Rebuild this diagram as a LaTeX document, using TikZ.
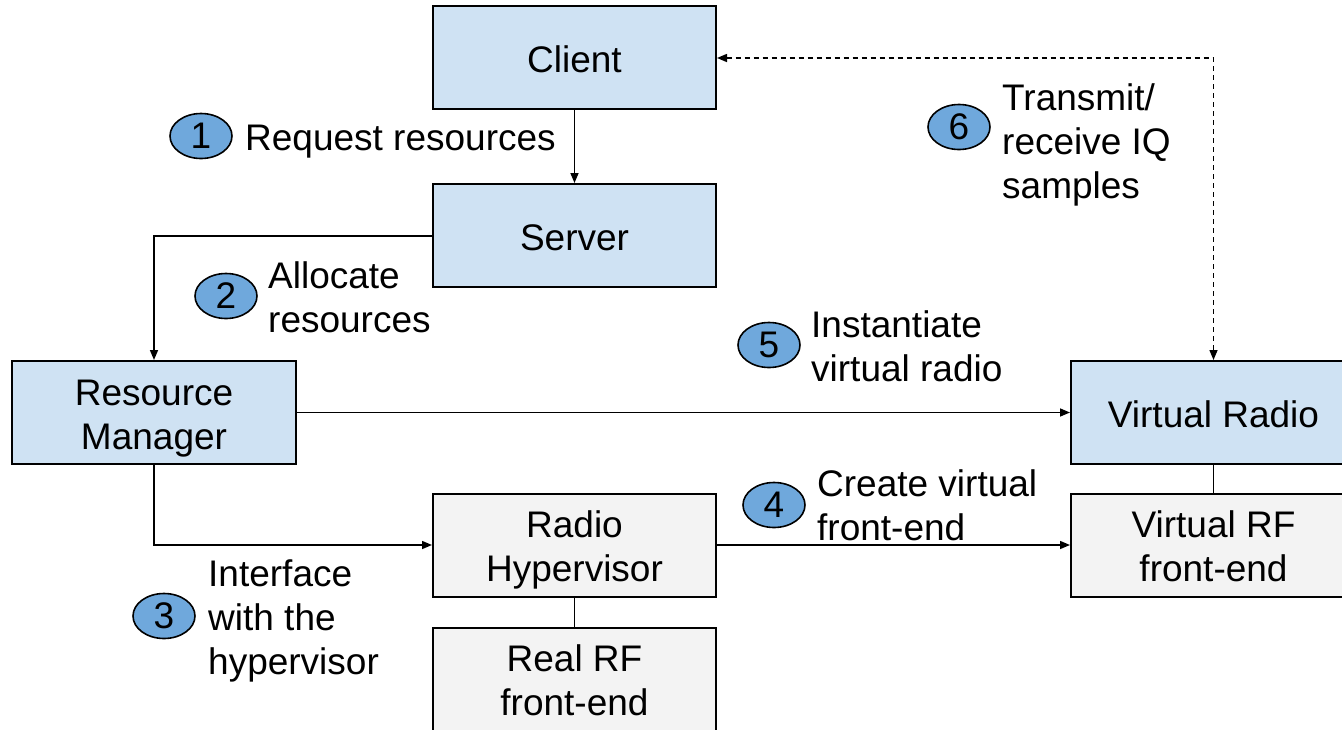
\documentclass[tikz,border=0pt]{standalone}
\usepackage{fontspec}
\setmainfont{Liberation Sans}
\usetikzlibrary{arrows.meta,shapes.geometric}
\definecolor{boxblue}{HTML}{CFE2F3}
\definecolor{boxgray}{HTML}{F3F3F3}
\definecolor{numblue}{HTML}{6FA8DC}
\newcommand\zup{\rule{0pt}{38.6pt}}
\newcommand\zdn{\rule[-9pt]{0pt}{9pt}}
\tikzset{
  box/.style={draw=black, line width=2pt, minimum height=103pt, inner sep=0pt, align=center,
     font=\fontsize{37}{44}\selectfont},
  bluebox/.style={box, fill=boxblue},
  graybox/.style={box, fill=boxgray},
  num/.style={ellipse, draw=black, line width=1.6pt, fill=numblue, minimum width=62pt, minimum height=45pt,
     inner sep=0pt, font=\fontsize{37}{44}\selectfont},
  lbl/.style={anchor=west, align=left, inner sep=0pt, font=\fontsize{37}{44}\selectfont},
  conn/.style={line width=1.5pt, -{Triangle[length=10pt,width=8pt]}},
  link/.style={line width=1.5pt},
  dconn/.style={line width=1.5pt, dash pattern=on 5pt off 4pt,
     {Triangle[length=10pt,width=8pt]}-{Triangle[length=10pt,width=8pt]}}
}
\begin{document}
\begin{tikzpicture}[x=1pt,y=-1pt]
\useasboundingbox (0,0) rectangle (1342,729);
\clip (0,0) rectangle (1342,729);
\fill[white] (0,0) rectangle (1342,729);

\node[bluebox, minimum width=283pt] (client) at (574.5,57.5) {\zup Client\zdn};
\node[bluebox, minimum width=283pt] (server) at (574.5,235.5) {\zup Server\zdn};
\node[bluebox, minimum width=284pt] (rm) at (154,412.5) {\zup Resource\\Manager\zdn};
\node[bluebox, minimum width=285pt] (vr) at (1213.5,412.5) {\zup Virtual Radio\zdn};
\node[graybox, minimum width=283pt] (hv) at (574.5,545) {\zup Radio\\Hypervisor\zdn};
\node[graybox, minimum width=283pt] (real) at (574.5,679) {\zup Real RF\\front-end\zdn};
\node[graybox, minimum width=285pt] (vrf) at (1213.5,545) {\zup Virtual RF\\front-end\zdn};

\coordinate (c1) at (154,236);
\coordinate (c2) at (154,545);
\coordinate (c3) at (1213.5,58);

\draw[conn] (client.south) -- (server.north);
\draw[conn] (server.west |- c1) -- (c1) -- (rm.north);
\draw[conn] (rm.east) -- (vr.west);
\draw[conn] (rm.south) -- (c2) -- (hv.west);
\draw[conn] (hv.east) -- (vrf.west);
\draw[link] (hv.south) -- (real.north);
\draw[link] (vr.south) -- (vrf.north);
\draw[dconn] (client.east |- c3) -- (c3) -- (vr.north);

\node[num] (n1) at (201,136) {1};
\node[lbl] (t1) at (245,135.5) {\zup Request resources\zdn};
\node[num] (n2) at (226,296) {2};
\node[lbl] (t2) at (268,295.5) {\zup Allocate\\resources\zdn};
\node[num] (n3) at (164,616) {3};
\node[lbl] (t3) at (208,615.5) {\zup Interface\\with the\\hypervisor\zdn};
\node[num] (n4) at (774,505) {4};
\node[lbl] (t4) at (817,503.5) {\zup Create virtual\\front-end\zdn};
\node[num] (n5) at (769,345) {5};
\node[lbl] (t5) at (811,344.5) {\zup Instantiate\\virtual radio\zdn};
\node[num] (n6) at (959,127) {6};
\node[lbl] (t6) at (1002,139.5) {\zup Transmit/\\receive IQ\\samples\zdn};
\end{tikzpicture}
\end{document}
